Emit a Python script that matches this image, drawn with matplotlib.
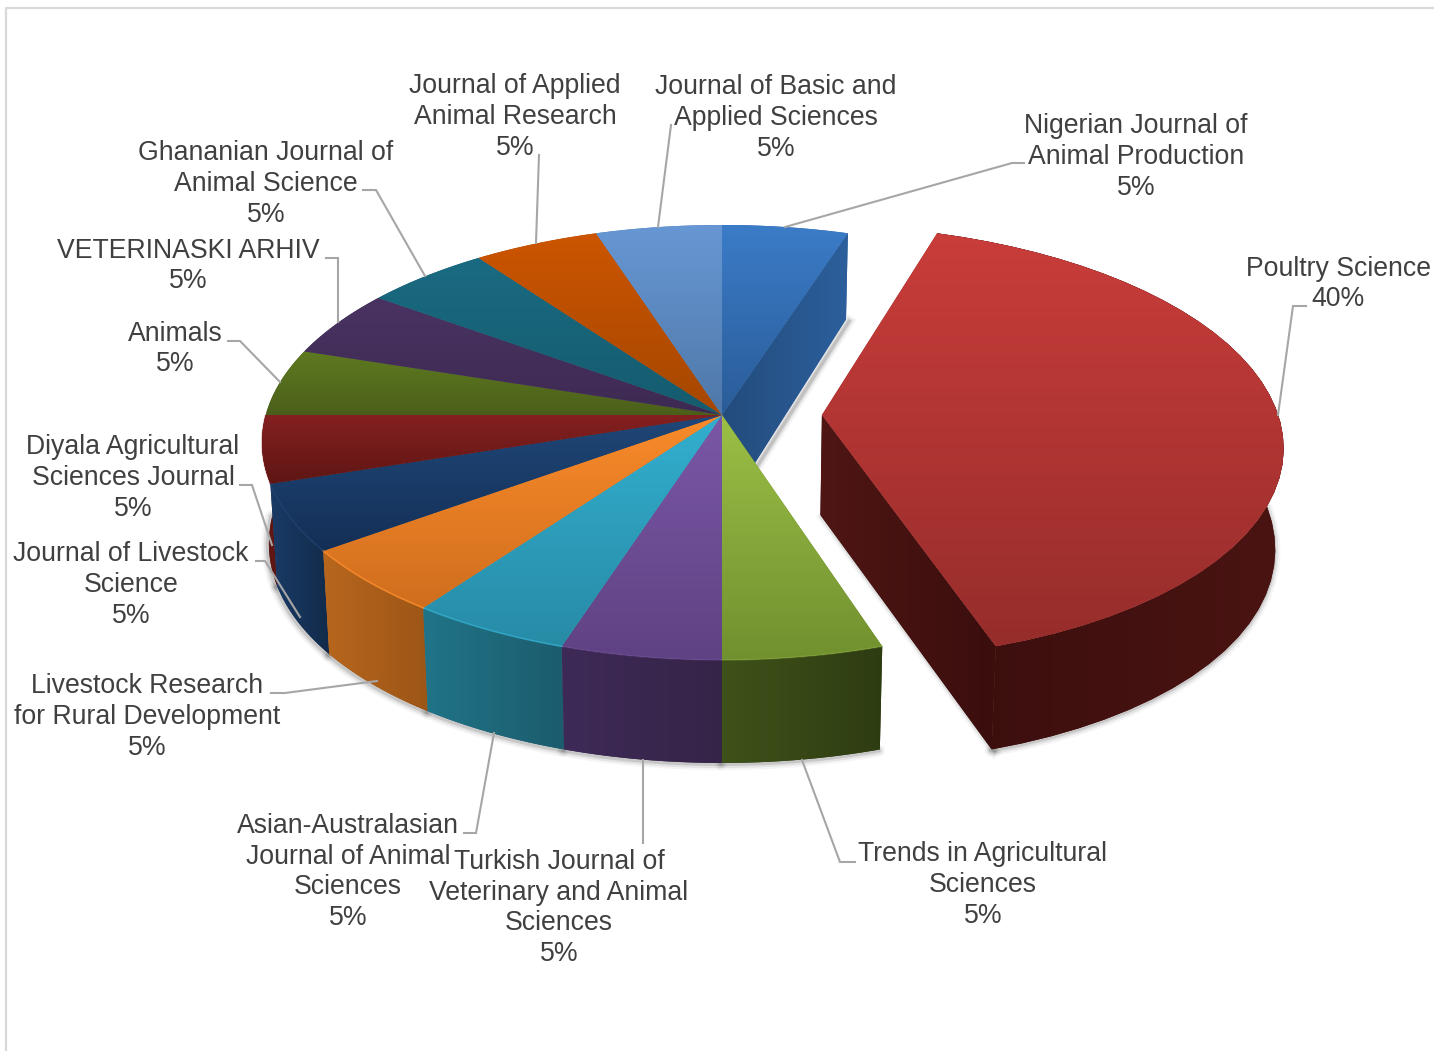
import numpy as np
import matplotlib
matplotlib.use('Agg')
import matplotlib.pyplot as plt
from matplotlib.colors import LinearSegmentedColormap
from matplotlib.patches import Polygon

# clockwise from 12 o'clock
journals = ["Nigerian Journal of\nAnimal Production", "Poultry Science",
            "Trends in Agricultural\nSciences", "Turkish Journal of\nVeterinary and Animal\nSciences",
            "Asian-Australasian\nJournal of Animal\nSciences", "Livestock Research\nfor Rural Development",
            "Journal of Livestock\nScience", "Diyala Agricultural\nSciences Journal", "Animals",
            "VETERINASKI ARHIV", "Ghananian Journal of\nAnimal Science",
            "Journal of Applied\nAnimal Research", "Journal of Basic and\nApplied Sciences"]
shares = [5, 40, 5, 5, 5, 5, 5, 5, 5, 5, 5, 5, 5]
exploded = [0, 0.219, 0, 0, 0, 0, 0, 0, 0, 0, 0, 0, 0]

top_colors = [("#3B7CC8", "#2A5C98"), ("#C93D3A", "#962D2B"), ("#9BBF46", "#71902F"),
              ("#7B57A6", "#5F4283"), ("#33AFCF", "#278BA6"), ("#F98B2A", "#D06E1E"),
              ("#1F4778", "#142F56"), ("#842020", "#5E1614"), ("#5E7A20", "#4B5F1A"),
              ("#4A3362", "#3D2A52"), ("#1A6B82", "#155B6E"), ("#CC5500", "#A54700"),
              ("#6797D4", "#4F78A8")]
wall_colors = [("#234C7C", "#2C5F9C"), ("#3A0E0D", "#4A1412"), ("#3F5219", "#2E3C12"),
               ("#3E2A57", "#362448"), ("#217488", "#1B5C6D"), ("#B8661D", "#9C5617"),
               ("#1A3B66", "#122B4B"), ("#6B1A18", "#591512"), ("#4B5F1A", "#4B5F1A"),
               ("#3D2A52", "#3D2A52"), ("#155B6E", "#155B6E"), ("#A54700", "#A54700"),
               ("#4F78A8", "#4F78A8")]
poultry_side = ("#4F1614", "#3A0E0D")
rim_alpha = [0, 0, 0.3, 0.3, 0.75, 0.85, 0.5, 0.3, 0, 0, 0, 0, 0]

label_pos = [(1136, 157), (1338, 284), (983, 885), (559, 908), (348, 872), (147, 717), (131, 585),
             (133, 478), (175, 349), (188, 266), (266, 184), (515, 117), (776, 118)]
leaders = [[(1024, 163), (1012, 163), (785, 227)], [(1306, 306), (1293, 306), (1278, 415)],
           [(855, 862), (840, 862), (802, 760)], [(643, 760), (643, 843)],
           [(464, 833), (476, 833), (494, 733)], [(271, 693), (285, 693), (377, 681)],
           [(256, 561), (265, 561), (300, 617)], [(240, 485), (252, 485), (272, 545)],
           [(228, 341), (240, 341), (280, 382)], [(326, 258), (338, 258), (338, 322)],
           [(363, 190), (376, 190), (425, 276)], [(539, 155), (536, 243)], [(671, 125), (658, 227)]]

# perspective of the pie plane, in pixels
CX, CY = 722, 415
A, C, B = 456.3, 214, 0.1263


def project(u, v):
    return CX + A * u / (1 + B * v), CY - C * v / (1 + B * v)


def top_point(theta, off):
    return project(np.sin(theta) + off, np.cos(theta))


def bottom_of(x, y, v):
    depth = 100 - 9 * v - 6 * v ** 2
    return CX + (x - CX) * 0.985, y + depth


def gradient(ax, verts, c1, c2, vertical, z):
    verts = np.array(verts)
    poly = Polygon(verts, closed=True, fc=c2, ec='none', zorder=z)
    ax.add_patch(poly)
    cmap = LinearSegmentedColormap.from_list("g", [c1, c2])
    ramp = np.linspace(0, 1, 128)
    ramp = ramp[:, None] if vertical else ramp[None, :]
    x0, y0 = verts.min(axis=0)
    x1, y1 = verts.max(axis=0)
    im = ax.imshow(ramp, cmap=cmap, extent=(x0, x1, y1, y0), origin='upper', aspect='auto',
                   interpolation='bilinear', zorder=z + 0.01)
    im.set_clip_path(poly)


fig = plt.figure(figsize=(14.34, 10.51), dpi=100)
ax = fig.add_axes([0, 0, 1, 1])
ax.axis('off')

edges = np.radians(np.cumsum([0] + shares) * 3.6)


def arc(i, n=40):
    return np.linspace(edges[i], edges[i + 1], n)


def outer_wall(i):
    th = arc(i)
    tx, ty = top_point(th, exploded[i])
    bx, by = bottom_of(tx, ty, np.cos(th))
    return tx, ty, bx, by


def radial_wall(i, theta):
    x0, y0 = project(exploded[i], 0)
    x1, y1 = top_point(theta, exploded[i])
    bx0, by0 = bottom_of(x0, y0, 0)
    bx1, by1 = bottom_of(x1, y1, np.cos(theta))
    return [(x0, y0), (x1, y1), (bx1, by1), (bx0, by0)]


# soft shadow under the front walls
for i in [1, 2, 3, 4, 5, 6, 7]:
    tx, ty, bx, by = outer_wall(i)
    for lw, alpha in [(9, 0.04), (6, 0.07), (3, 0.12)]:
        ax.plot(bx - 1, by + 1, color='black', lw=lw, alpha=alpha, zorder=1, solid_capstyle='round')
for i, theta in [(0, edges[1]), (1, edges[2])]:
    w = radial_wall(i, theta)
    for lw, alpha in [(8, 0.04), (5, 0.08), (2.5, 0.14)]:
        ax.plot([w[2][0] + 3, w[3][0] + 3], [w[2][1] + 2, w[3][1] + 2], color='black', lw=lw,
                alpha=alpha, zorder=1)

# walls, back to front
w = radial_wall(1, edges[2])
gradient(ax, w, poultry_side[0], poultry_side[1], False, 2)
w = radial_wall(0, edges[1])
gradient(ax, w, wall_colors[0][0], wall_colors[0][1], False, 3)
z = 4
for i in [1, 7, 6, 5, 4, 3, 2]:
    tx, ty, bx, by = outer_wall(i)
    verts = list(zip(tx, ty)) + list(zip(bx[::-1], by[::-1]))
    if i == 1:
        # only the part from the front corner round to the right is seen
        gradient(ax, verts, wall_colors[i][0], wall_colors[i][1], False, 1.5)
    else:
        gradient(ax, verts, wall_colors[i][0], wall_colors[i][1], False, z)
    z += 1

# top faces
for i in range(len(shares)):
    tx, ty = top_point(arc(i), exploded[i])
    apex = project(exploded[i], 0)
    verts = [apex] + list(zip(tx, ty))
    gradient(ax, verts, top_colors[i][0], top_colors[i][1], True, 20 + i * 0.1)
    if rim_alpha[i] > 0:
        ax.plot(tx, ty, color=top_colors[i][0], lw=1.2, alpha=rim_alpha[i], zorder=22)

for pts in leaders:
    xs, ys = zip(*pts)
    ax.plot(xs, ys, color="#A6A6A6", lw=1.5, zorder=25, solid_joinstyle='miter')

for name, share, (x, y) in zip(journals, shares, label_pos):
    ax.text(x, y, f"{name}\n{share}%", ha='center', va='center', multialignment='center',
            family='Liberation Sans', fontsize=19.2, color="#404040", zorder=30, linespacing=1.24)

# frame of the chart area
ax.plot([6, 6, 1434], [1051, 7.5, 7.5], color="#D9D9D9", lw=1.6, zorder=0)

ax.set_xlim(0, 1434)
ax.set_ylim(1051, 0)
fig.savefig("out.png", dpi=100, facecolor='white')
